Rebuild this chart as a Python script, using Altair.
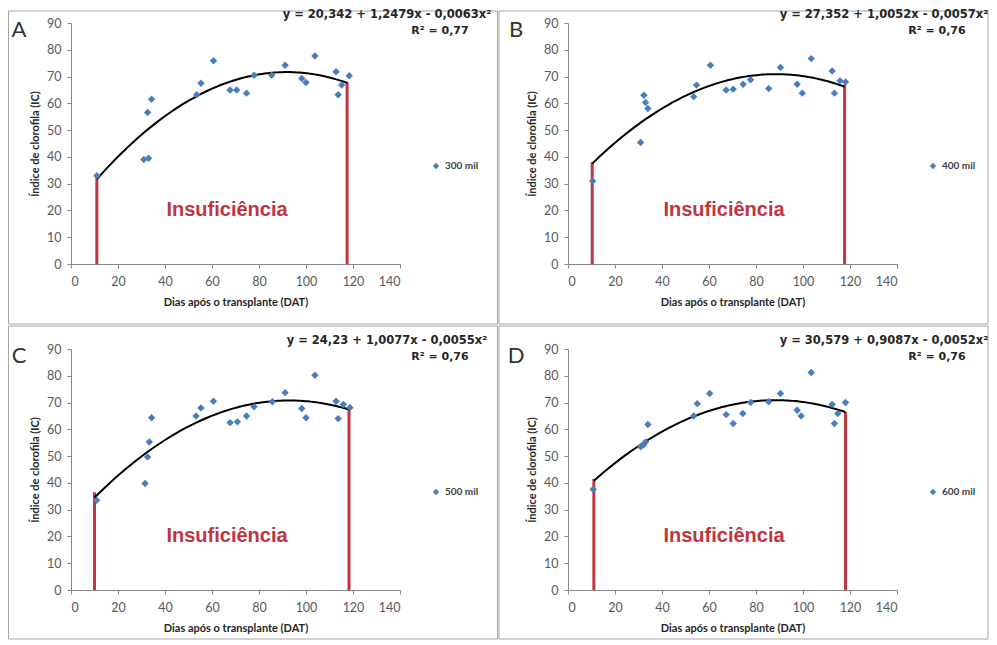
import altair as alt
import pandas as pd

# ---- data ----
letters = ["A", "B", "C", "D"]
series = ["300 mil", "400 mil", "500 mil", "600 mil"]
equations = [
    "y = 20,342 + 1,2479x - 0,0063x²",
    "y = 27,352 + 1,0052x - 0,0057x²",
    "y = 24,23 + 1,0077x - 0,0055x²",
    "y = 30,579 + 0,9087x - 0,0052x²",
]
r2_labels = ["R² = 0,77", "R² = 0,76", "R² = 0,76", "R² = 0,76"]

A_x = [11, 31, 33, 32.6, 34.3, 53.5, 55.3, 60.6, 67.7, 70.5, 74.7, 77.9, 85.4, 91.1, 98.2, 100, 103.8, 112.8, 113.7, 115.2, 118.4]
A_y = [33, 39, 39.5, 56.6, 61.5, 63.2, 67.5, 75.9, 65, 65, 63.8, 70.5, 70.5, 74.2, 69.3, 67.8, 77.7, 71.8, 63.2, 66.8, 70.3]
B_x = [10.5, 30.9, 32.3, 33, 34, 53.5, 54.7, 60.6, 67.3, 70.3, 74.5, 77.7, 85.4, 90.4, 97.5, 99.7, 103.5, 112.4, 113.4, 115.7, 118.1]
B_y = [31, 45.4, 63, 60.3, 58.1, 62.5, 66.8, 74.2, 65, 65.3, 67.1, 68.8, 65.5, 73.4, 67.1, 63.8, 76.7, 72.1, 63.8, 68.4, 68]
C_x = [10.9, 31.5, 32.6, 33.3, 34.3, 53.2, 55.3, 60.6, 67.7, 70.8, 74.7, 77.9, 85.7, 91.1, 98.2, 100, 103.8, 112.8, 113.7, 115.9, 118.7]
C_y = [33.5, 39.8, 49.7, 55.3, 64.3, 65, 68, 70.5, 62.5, 62.8, 65, 68.4, 70.3, 73.7, 67.8, 64.3, 80.2, 70.5, 64, 69.3, 68.1]
D_x = [10.7, 30.9, 32, 33, 34, 53.5, 55, 60.3, 67.3, 70.3, 74.4, 77.7, 85.4, 90.4, 97.5, 99.2, 103.5, 112.4, 113.4, 114.8, 118.1]
D_y = [37.6, 53.5, 54.1, 55.3, 61.8, 65, 69.6, 73.4, 65.5, 62.2, 65.9, 70, 70.3, 73.4, 67.1, 65, 81.2, 69.3, 62.2, 65.9, 70]

# red vertical limit lines (x position, top value)
limit_x = [[11, 117.5], [10.3, 117.7], [10, 118.3], [11, 118.1]]
limit_top = [[33, 68], [38, 67], [36.5, 68], [41.5, 66.5]]
reg_extent = [[11, 117.5], [10.3, 117.7], [10, 118.3], [11, 118.1]]

x_ticks = [0, 20, 40, 60, 80, 100, 120, 140]
y_ticks = [0, 10, 20, 30, 40, 50, 60, 70, 80, 90]

FONT = "Lato"
PT_COLOR = "#4A7EBB"
RED = "#C0353F"
W, H = 329, 241
BOX_W, BOX_H = 490, 314

xs_all = [A_x, B_x, C_x, D_x]
ys_all = [A_y, B_y, C_y, D_y]


def panel(i):
    col, row = i % 2, i // 2
    left = 63 if col == 0 else 69.5
    top = 12.5 if row == 0 else 23.5
    df = pd.DataFrame({"x": xs_all[i], "y": ys_all[i], "serie": series[i]})
    lim = pd.DataFrame({"x": limit_x[i], "y": limit_top[i], "zero": [0, 0]})

    xaxis = alt.Axis(values=x_ticks, title="Dias após o transplante (DAT)",
                     labelPadding=7, titlePadding=9, zindex=1)
    yaxis = alt.Axis(values=y_ticks, title="Índice de clorofila  (IC)",
                     labelPadding=6, titlePadding=6, zindex=1)
    xs = alt.Scale(domain=[0, 140], nice=False)
    ys = alt.Scale(domain=[0, 90], nice=False)

    one = alt.Data(values=[{}])
    box = alt.Chart(one).mark_rect(fill="white", fillOpacity=0, stroke="#a6a6a6",
                                   strokeWidth=1).encode(
        x=alt.value(-left + 0.5), x2=alt.value(-left + BOX_W - 0.5),
        y=alt.value(-top + 0.5), y2=alt.value(-top + BOX_H - 0.5))

    rules = alt.Chart(lim).mark_rule(color=RED, strokeWidth=3).encode(
        x=alt.X("x:Q", scale=xs, axis=xaxis),
        y=alt.Y("zero:Q", scale=ys, axis=yaxis),
        y2="y:Q")

    curve = alt.Chart(df).transform_regression(
        "x", "y", method="poly", order=2, extent=reg_extent[i]
    ).mark_line(color="black", strokeWidth=2).encode(
        x=alt.X("x:Q", scale=xs, axis=xaxis),
        y=alt.Y("y:Q", scale=ys, axis=yaxis))

    pts = alt.Chart(df).mark_point(shape="diamond", filled=True, size=55, opacity=1).encode(
        x=alt.X("x:Q", scale=xs, axis=xaxis),
        y=alt.Y("y:Q", scale=ys, axis=yaxis),
        color=alt.Color("serie:N", scale=alt.Scale(range=[PT_COLOR]),
                        legend=alt.Legend(orient="none", legendX=360, legendY=138,
                                          title=None, padding=0, labelFont=FONT,
                                          labelFontSize=10, labelFontWeight="bold",
                                          labelColor="#404040", symbolType="diamond",
                                          symbolSize=40, symbolStrokeWidth=0)))

    letter = alt.Chart(one).mark_text(text=letters[i], font=FONT, fontSize=22,
                                      color="#333333", align="center", baseline="middle").encode(
        x=alt.value(-52), y=alt.value(7))
    eq = alt.Chart(one).mark_text(text=equations[i], font="DejaVu Sans", fontSize=11.5,
                                  fontWeight="bold", color="#262626", align="center",
                                  baseline="middle").encode(
        x=alt.value(316), y=alt.value(-8.5))
    r2 = alt.Chart(one).mark_text(text=r2_labels[i], font="DejaVu Sans", fontSize=11,
                                  fontWeight="bold", color="#262626", align="center",
                                  baseline="middle").encode(
        x=alt.value(369), y=alt.value(7.5))
    insuf = alt.Chart(one).mark_text(text="Insuficiência", font="Liberation Sans", fontSize=20,
                                     fontWeight="bold", color=RED, align="center",
                                     baseline="middle").encode(
        x=alt.value(156), y=alt.value(186.5))

    return alt.layer(box, rules, curve, pts, letter, eq, r2, insuf).properties(width=W, height=H)


chart = alt.concat(*[panel(i) for i in range(4)], columns=2, spacing=0).resolve_scale(
    color="independent").properties(padding=0).configure_view(strokeWidth=0).configure_axis(
    grid=False, domainColor="#868686", tickColor="#868686", tickSize=4,
    labelColor="#595959", labelFont=FONT, labelFontSize=12.5,
    titleFont=FONT, titleFontSize=11, titleFontWeight="bold", titleColor="#262626")

chart.save("out.html", embed_options={"renderer": "svg", "actions": False})
